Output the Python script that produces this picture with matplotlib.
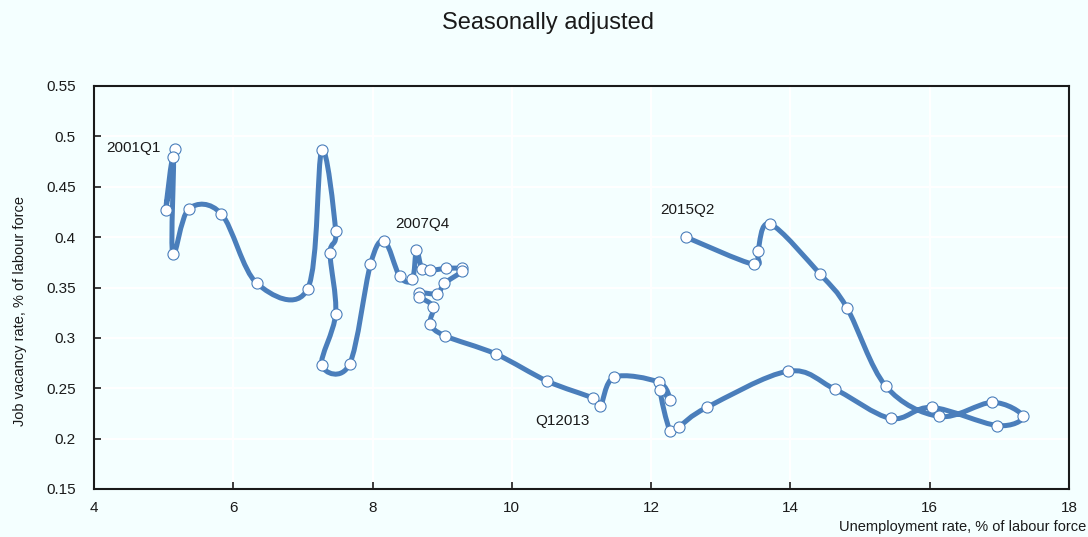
import numpy as np
import matplotlib
matplotlib.use("Agg")
import matplotlib.pyplot as plt
from matplotlib.path import Path
from matplotlib.patches import PathPatch

# Beveridge curve, quarterly, in drawing order (2001Q1 -> 2015Q2)
unemployment = [5.17, 5.03, 5.14, 5.13, 5.36, 5.83, 6.34, 7.07, 7.27, 7.47,
                7.39, 7.47, 7.27, 7.67, 7.97, 8.17, 8.39, 8.57, 8.63, 8.71,
                8.83, 9.06, 9.29, 9.29, 9.03, 8.93, 8.67, 8.67, 8.87, 8.83,
                9.04, 9.77, 10.51, 11.17, 11.27, 11.47, 12.11, 12.27, 12.13, 12.27,
                12.40, 12.80, 13.97, 14.64, 15.44, 16.03, 16.97, 17.34, 16.90, 16.14,
                15.37, 14.81, 14.43, 13.71, 13.53, 13.47, 12.50]
vacancy = [0.487, 0.427, 0.480, 0.383, 0.428, 0.423, 0.354, 0.349, 0.486, 0.406,
           0.384, 0.324, 0.273, 0.274, 0.373, 0.396, 0.361, 0.358, 0.387, 0.368,
           0.367, 0.369, 0.369, 0.366, 0.354, 0.344, 0.345, 0.341, 0.331, 0.314,
           0.302, 0.284, 0.257, 0.240, 0.232, 0.261, 0.256, 0.238, 0.248, 0.208,
           0.212, 0.231, 0.267, 0.249, 0.220, 0.231, 0.213, 0.222, 0.236, 0.222,
           0.252, 0.330, 0.363, 0.413, 0.386, 0.373, 0.400]

point_labels = ["2001Q1", "2007Q4", "2015Q2", "Q12013"]
label_x = [4.56, 8.72, 12.52, 10.72]
label_y = [0.488, 0.413, 0.427, 0.2175]

x_ticks = [4, 6, 8, 10, 12, 14, 16, 18]
y_ticks = [0.15, 0.2, 0.25, 0.3, 0.35, 0.4, 0.45, 0.5, 0.55]
y_tick_labels = ["0.15", "0.2", "0.25", "0.3", "0.35", "0.4", "0.45", "0.5", "0.55"]

BG = "#F4FFFF"
BLUE = "#4A7EBB"
INK = "#1a1a1a"

plt.rcParams["font.family"] = ["Liberation Sans", "DejaVu Sans"]


def smooth_path(x, y):
    # Catmull-Rom style bezier through the points (like a spreadsheet "smoothed line")
    pts = np.column_stack([x, y])
    ext = np.vstack([pts[0], pts, pts[-1]])
    verts = [pts[0]]
    codes = [Path.MOVETO]
    for i in range(len(pts) - 1):
        p0, p1, p2, p3 = ext[i], ext[i + 1], ext[i + 2], ext[i + 3]
        verts += [p1 + (p2 - p0) / 6.0, p2 - (p3 - p1) / 6.0, p2]
        codes += [Path.CURVE4] * 3
    return Path(verts, codes)


fig = plt.figure(figsize=(10.88, 5.37), dpi=100, facecolor=BG)
ax = fig.add_axes([94 / 1088, 1 - 489 / 537, (1069 - 94) / 1088, (489 - 86) / 537])
ax.set_facecolor(BG)

ax.set_xlim(4, 18)
ax.set_ylim(0.15, 0.55)
ax.set_xticks(x_ticks)
ax.set_yticks(y_ticks)
ax.set_yticklabels(y_tick_labels)
ax.grid(True, color="white", linewidth=1.5, zorder=0)
ax.set_axisbelow(True)

for side in ["left", "bottom", "top", "right"]:
    ax.spines[side].set_linewidth(1.5)
    ax.spines[side].set_color(INK)

ax.tick_params(axis="both", direction="in", length=5, width=1.2, labelsize=11,
               colors=INK)
ax.tick_params(axis="y", pad=13)
ax.tick_params(axis="x", pad=9)

ax.add_patch(PathPatch(smooth_path(unemployment, vacancy), facecolor="none",
                       edgecolor=BLUE, linewidth=3.6, capstyle="round",
                       joinstyle="round", zorder=3))
ax.plot(unemployment, vacancy, linestyle="none", marker="o", markersize=8,
        markerfacecolor="white", markeredgecolor=BLUE, markeredgewidth=0.8,
        zorder=4)

for txt, tx, ty in zip(point_labels, label_x, label_y):
    ax.text(tx, ty, txt, fontsize=11, ha="center", va="center", color=INK,
            zorder=5)

fig.text(20 / 1088, 1 - 311 / 537, "Job vacancy rate, % of labour force",
         fontsize=10.5, rotation=90, ha="center", va="center", color=INK)
fig.text(1086 / 1088, 1 - 527 / 537, "Unemployment rate, % of labour force",
         fontsize=10.5, ha="right", va="center", color=INK)
fig.text(548 / 1088, 1 - 23 / 537, "Seasonally adjusted", fontsize=17,
         ha="center", va="center", color=INK)

fig.savefig("out.png", dpi=100, facecolor=BG)
